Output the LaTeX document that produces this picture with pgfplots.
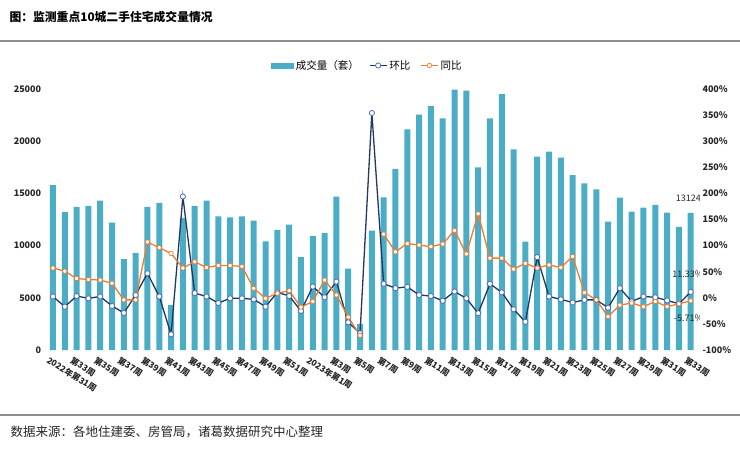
\documentclass[border=0pt]{standalone}
\usepackage{fontspec}
\setmainfont{Noto Sans CJK SC}
\usepackage{pgfplots}
\pgfplotsset{compat=1.18}
\definecolor{barc}{HTML}{4BACC6}
\definecolor{hbc}{HTML}{22385F}
\definecolor{hbm}{HTML}{4A72B8}
\definecolor{tbc}{HTML}{ED7D31}
\begin{document}
\begin{tikzpicture}
\useasboundingbox (0,0) rectangle (740bp,-449bp);
\node[anchor=west, font=\bfseries\fontsize{11.8bp}{14bp}\selectfont] at (6bp,-17bp) {图：监测重点10城二手住宅成交量情况};
\draw[black!45, line width=1.3bp] (0,-41bp) -- (740bp,-41bp);
\draw[black!45, line width=1.3bp] (0,-415bp) -- (740bp,-415bp);
\node[anchor=west, font=\fontsize{12.5bp}{14bp}\selectfont, text=black!85] at (7bp,-432bp) {数据来源：各地住建委、房管局，诸葛数据研究中心整理};

\begin{axis}[
  at={(44.7bp,-350bp)}, anchor=south west,
  scale only axis, width=654.3bp, height=261bp,
  xmin=-0.7, xmax=54.7, ymin=0, ymax=25000,
  axis line style={draw=none}, major tick length=0pt,
  ytick={0,5000,...,25000}, scaled y ticks=false,
  /pgf/number format/1000 sep={},
  /pgf/number format/assume math mode=true,
  yticklabel style={font=\bfseries\fontsize{9bp}{10bp}\selectfont, text=black!85},
  xtick={0,2,...,54},
  xticklabels={2022年第31周,第33周,第35周,第37周,第39周,第41周,第43周,第45周,第47周,第49周,第51周,2023年第1周,第3周,第5周,第7周,第9周,第11周,第13周,第15周,第17周,第19周,第21周,第23周,第25周,第27周,第29周,第31周,第33周},
  xticklabel style={font=\bfseries\fontsize{8.5bp}{9bp}\selectfont, text=black!85, rotate=-32, anchor=north west, xshift=-3bp, yshift=-3bp},
  legend style={at={(0.493,1.09)}, anchor=center, draw=none, fill=none, legend columns=3, font=\fontsize{10.5bp}{12bp}\selectfont, /tikz/every even column/.append style={column sep=8bp}},
]
\addplot[ybar, bar width=6bp, bar shift=0pt, fill=barc, draw=none,
  area legend, legend image code/.code={\fill[barc] (0bp,-3bp) rectangle (23bp,3bp);}]
coordinates {
(0,15800)(1,13200)(2,13700)(3,13800)(4,14300)(5,12200)(6,8700)(7,9300)(8,13700)(9,14100)
(10,4300)(11,12650)(12,13800)(13,14300)(14,12800)(15,12700)(16,12800)(17,12400)(18,10400)(19,11500)
(20,12000)(21,8900)(22,10900)(23,11200)(24,14700)(25,7800)(26,2500)(27,11430)(28,14630)(29,17340)
(30,21140)(31,22540)(32,23370)(33,22190)(34,24940)(35,24840)(36,17500)(37,22190)(38,24520)(39,19220)
(40,10370)(41,18520)(42,19000)(43,18420)(44,16760)(45,15960)(46,15380)(47,12290)(48,14590)(49,13250)
(50,13630)(51,13890)(52,13150)(53,11790)(54,13124)
};
\addlegendentry{成交量（套）}
\addlegendimage{hbc, line width=1.3bp, mark=*, mark size=2.6bp, mark options={fill=white, draw=hbm, line width=0.8bp}}
\addlegendentry{环比}
\addlegendimage{tbc, line width=1.3bp, mark=*, mark size=2.2bp, mark options={fill=white, draw=tbc, line width=0.7bp}}
\addlegendentry{同比}
\node[font=\fontsize{9bp}{10bp}\selectfont, text=black!85] at (axis cs:53.8,14500) {13124};
\end{axis}

\begin{axis}[
  at={(44.7bp,-350bp)}, anchor=south west,
  scale only axis, width=654.3bp, height=261bp,
  xmin=-0.7, xmax=54.7, ymin=-100, ymax=400,
  hide x axis, axis y line*=right, axis line style={draw=none}, major tick length=0pt,
  ytick={-100,-50,...,400},
  /pgf/number format/assume math mode=true,
  yticklabel={\pgfmathprintnumber{\tick}\%},
  yticklabel style={font=\bfseries\fontsize{9bp}{10bp}\selectfont, text=black!85},
  unbounded coords=jump,
]
\addplot[hbc, line width=1.3bp, mark=*, mark size=2.6bp, mark options={fill=white, draw=hbm, line width=0.8bp}]
coordinates {
(0,2.5)(1,-17)(2,3.4)(3,-1)(4,2.5)(5,-15.7)(6,-29)(7,5.4)(8,47)(9,2.5)
(10,-70)(11,194)(12,9)(13,2.5)(14,-10)(15,-1)(16,-1)(17,-3)(18,-17)(19,10.5)
(20,3.4)(21,-25)(22,21.6)(23,1)(24,31)(25,-47)(26,-68)(27,354)(28,27)(29,18.5)
(30,21)(31,5.4)(32,3.4)(33,-5.6)(34,12)(35,-1)(36,-29.5)(37,26.8)(38,10.5)(39,-22)
(40,-46)(41,78)(42,2.5)(43,-3)(44,-9)(45,-4)(46,-4)(47,-19)(48,18.5)(49,-7)
(50,2.5)(51,1)(52,-5)(53,-11.5)(54,11.33)
};
\addplot[tbc, line width=1.3bp, mark=*, mark size=2.2bp, mark options={fill=white, draw=tbc, line width=0.7bp}]
coordinates {
(0,57)(1,51)(2,37)(3,35)(4,34)(5,28)(6,-4)(7,-4)(8,107)(9,96)
(10,85)(11,57)(12,69)(13,58)(14,62)(15,62)(16,60)(17,18)(18,-1)(19,8.6)
(20,13.6)(21,-18)(22,-7)(23,34)(24,5.4)(25,-37)(26,-72)(27,nan)(28,122)(29,88)
(30,104)(31,101)(32,98)(33,103)(34,129)(35,84)(36,161)(37,76)(38,76)(39,55)
(40,66)(41,57)(42,63)(43,58)(44,79)(45,10)(46,-4)(47,-36)(48,-14)(49,-10)
(50,-17)(51,-7)(52,-17)(53,-11.5)(54,-5.71)
};
\node[font=\fontsize{9bp}{10bp}\selectfont, text=black!85] at (axis cs:53.75,46) {11.33\%};
\node[font=\fontsize{9bp}{10bp}\selectfont, text=black!85] at (axis cs:53.8,-39) {-5.71\%};
\end{axis}
\end{tikzpicture}
\end{document}
